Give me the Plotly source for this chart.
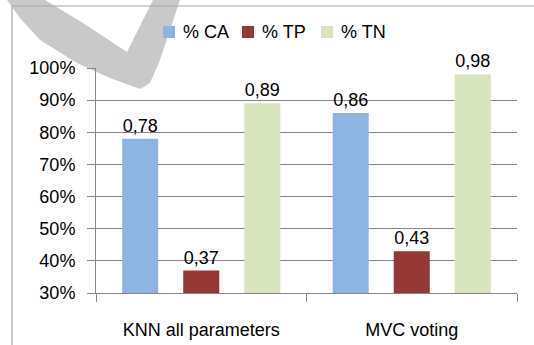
import plotly.graph_objects as go

categories = ["KNN all parameters", "MVC voting"]
series_names = ["% CA", "% TP", "% TN"]
ca_values = [0.78, 0.86]
tp_values = [0.37, 0.43]
tn_values = [0.89, 0.98]
tick_vals = [0.3, 0.4, 0.5, 0.6, 0.7, 0.8, 0.9, 1.0]
tick_text = ["30%", "40%", "50%", "60%", "70%", "80%", "90%", "100%"]
colors = ["#8EB4E3", "#953735", "#D7E4BD"]

W, H = 534, 345
L, R, T, B = 96, 17, 68, 52
PW, PH = W - L - R, H - T - B

def px(x):
    return (x - L) / PW

def py(y):
    return (H - B - y) / PH

FONT = "Liberation Sans"

fig = go.Figure()
for name, vals, col in zip(series_names, [ca_values, tp_values, tn_values], colors):
    fig.add_trace(go.Bar(
        x=categories, y=vals, name=name, marker=dict(color=col, line=dict(width=0)),
        text=[f"{v:.2f}".replace(".", ",") for v in vals],
        textposition="outside", cliponaxis=False, showlegend=False,
        textfont=dict(family=FONT, size=18, color="black"),
    ))

# watermark check stroke (decorative)
wm = [(7, 0), (45, 0), (83, 23), (127, 52), (153, 0), (180, 0), (160, 60), (150, 83),
      (140, 89), (110, 78), (77, 63), (40, 40), (20, 18)]
path = "M " + " L ".join(f"{px(a):.4f},{py(b):.4f}" for a, b in wm) + " Z"

shapes = [
    dict(type="path", xref="paper", yref="paper", path=path,
         fillcolor="#c9c9c9", line=dict(width=0), layer="below"),
    dict(type="line", xref="paper", yref="paper", x0=px(12), x1=px(534), y0=py(6), y1=py(6),
         line=dict(color="#a6a6a6", width=1.2)),
    dict(type="line", xref="paper", yref="paper", x0=px(12), x1=px(12), y0=py(6), y1=py(345),
         line=dict(color="#a6a6a6", width=1.2)),
]

# custom legend
legend_x = [163, 242, 321]
annotations = []
for name, col, lx in zip(series_names, colors, legend_x):
    shapes.append(dict(type="rect", xref="paper", yref="paper",
                       x0=px(lx), x1=px(lx + 12), y0=py(26), y1=py(38),
                       fillcolor=col, line=dict(width=0)))
    annotations.append(dict(xref="paper", yref="paper", x=px(lx + 18), y=py(32),
                            xanchor="left", yanchor="middle", showarrow=False,
                            text=name, font=dict(family=FONT, size=18, color="black")))

fig.update_layout(
    width=W, height=H,
    margin=dict(l=L, r=R, t=T, b=B, autoexpand=False),
    paper_bgcolor="white", plot_bgcolor="rgba(0,0,0,0)",
    barmode="group", bargap=0.13, bargroupgap=0.41,
    font=dict(family=FONT, size=18, color="black"),
    showlegend=False,
    shapes=shapes,
    annotations=annotations,
)
fig.update_yaxes(
    range=[0.3, 1.0], tickvals=tick_vals, ticktext=tick_text,
    showgrid=True, gridcolor="#868686", gridwidth=1,
    showline=True, linecolor="#868686", linewidth=1,
    ticks="outside", ticklen=8, tickcolor="#868686",
    ticklabelstandoff=8, zeroline=False,
    tickfont=dict(family=FONT, size=18, color="black"),
)
fig.update_xaxes(
    showline=True, linecolor="#868686", linewidth=1,
    ticks="outside", ticklen=8, tickcolor="#868686", tickson="boundaries",
    ticklabelstandoff=20,
    tickfont=dict(family=FONT, size=18, color="black"),
)

fig.write_html("out.html", config={"displayModeBar": False},
               post_script="document.body.style.margin='0';")
